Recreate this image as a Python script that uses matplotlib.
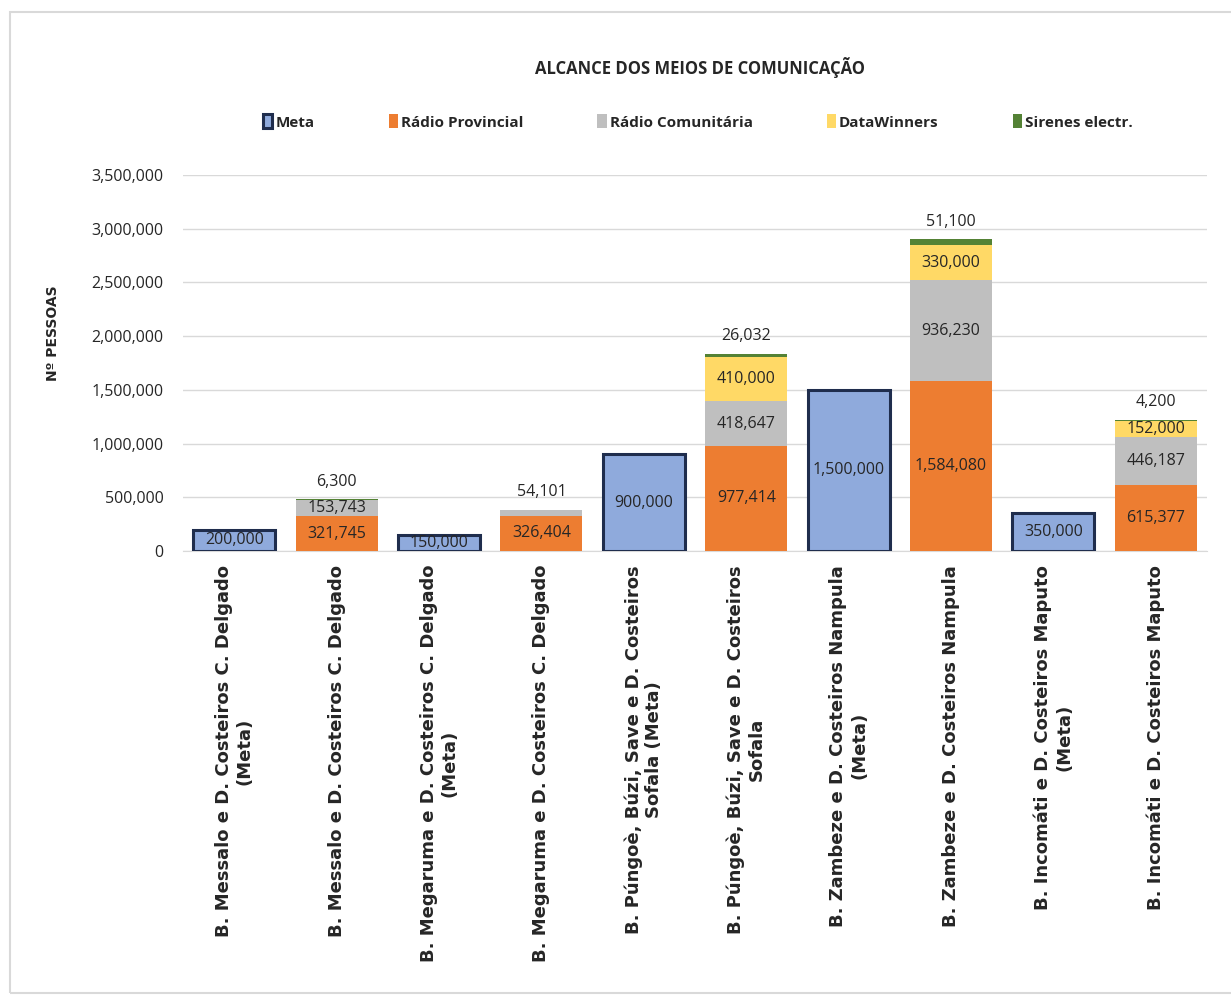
import matplotlib.pyplot as plt
import numpy as np
from matplotlib.patches import Rectangle
from matplotlib.ticker import FuncFormatter

categories = [
    "B. Messalo e D. Costeiros C. Delgado\n(Meta)",
    "B. Messalo e D. Costeiros C. Delgado",
    "B. Megaruma e D. Costeiros C. Delgado\n(Meta)",
    "B. Megaruma e D. Costeiros C. Delgado",
    "B. Púngoè, Búzi, Save e D. Costeiros\nSofala (Meta)",
    "B. Púngoè, Búzi, Save e D. Costeiros\nSofala",
    "B. Zambeze e D. Costeiros Nampula\n(Meta)",
    "B. Zambeze e D. Costeiros Nampula",
    "B. Incomáti e D. Costeiros Maputo\n(Meta)",
    "B. Incomáti e D. Costeiros Maputo",
]
meta = [200000, 0, 150000, 0, 900000, 0, 1500000, 0, 350000, 0]
provincial = [0, 321745, 0, 326404, 0, 977414, 0, 1584080, 0, 615377]
comunitaria = [0, 153743, 0, 54101, 0, 418647, 0, 936230, 0, 446187]
datawinners = [0, 0, 0, 0, 0, 410000, 0, 330000, 0, 152000]
sirenes = [0, 6300, 0, 0, 0, 26032, 0, 51100, 0, 4200]

series_names = ["Rádio Provincial", "Rádio Comunitária", "DataWinners", "Sirenes electr."]
series_colors = ["#ED7D31", "#BFBFBF", "#FFD966", "#548235"]

NARROW = ["Open Sans", "DejaVu Sans"]
WIDE = ["DejaVu Sans"]
TXT = "#262626"

fig = plt.figure(figsize=(12.31, 9.96), dpi=100)
fig.patches.append(Rectangle((10 / 1231, 0.003), 1.2, 1 - 12 / 996 - 0.003,
                             transform=fig.transFigure, fill=False,
                             edgecolor="#d9d9d9", linewidth=1.5))

ax = fig.add_axes([183 / 1231, 1 - 551 / 996, (1207 - 183) / 1231, (551 - 175) / 996])
x = np.arange(len(categories))
width = 0.8

h_meta = ax.bar(x, meta, width, color="#8FAADC", edgecolor="#1F2D4D",
                linewidth=2.2, label="Meta", zorder=3)
mask = np.array(meta) > 0
for rect, m in zip(h_meta, mask):
    if not m:
        rect.set_visible(False)

bottom = np.zeros(len(x))
handles = [h_meta]
stacks = [provincial, comunitaria, datawinners, sirenes]
for vals, name, col in zip(stacks, series_names, series_colors):
    vals = np.array(vals, dtype=float)
    h = ax.bar(x, vals, width, bottom=bottom, color=col, label=name, zorder=3)
    handles.append(h)
    bottom = bottom + vals

# value labels: inside the segment when it is tall enough, else above the stack
VSIZE = 11.5
for i in range(len(x)):
    if meta[i] > 0:
        ax.text(x[i], meta[i] / 2, f"{meta[i]:,}", ha="center", va="center",
                fontsize=VSIZE, family=NARROW, color=TXT, zorder=5)
        continue
    base = 0
    above = []
    for vals in stacks:
        v = vals[i]
        if v == 0:
            continue
        if v >= 100000:
            ax.text(x[i], base + v / 2, f"{v:,}", ha="center", va="center",
                    fontsize=VSIZE, family=NARROW, color=TXT, zorder=5)
        else:
            above.append(v)
        base += v
    for v in above:
        ax.annotate(f"{v:,}", (x[i], base), xytext=(0, 7), textcoords="offset points",
                    ha="center", va="bottom", fontsize=VSIZE, family=NARROW, color=TXT)

ax.set_ylim(0, 3500000)
ax.set_xlim(-0.5, len(x) - 0.5)
ax.set_yticks(np.arange(0, 3500001, 500000))
ax.yaxis.set_major_formatter(FuncFormatter(lambda v, p: f"{int(v):,}"))
ax.grid(axis="y", color="#d9d9d9", linewidth=1, zorder=0)
ax.set_axisbelow(True)
for s in ["top", "right", "left"]:
    ax.spines[s].set_visible(False)
ax.spines["bottom"].set_color("#d9d9d9")
ax.tick_params(axis="y", length=0, pad=14, labelsize=11.5, labelcolor=TXT)
ax.tick_params(axis="x", length=0, pad=10)
for lab in ax.get_yticklabels():
    lab.set_family(NARROW)

ax.set_xticks(x)
ax.set_xticklabels(categories, rotation=90, ha="center", va="top",
                   multialignment="center", fontsize=13, fontweight="bold",
                   family=WIDE, color=TXT)

ax.set_ylabel("Nº PESSOAS", fontsize=10, fontweight="bold", color=TXT,
              family=WIDE)
ax.yaxis.set_label_coords(-0.12, 0.58)

fig.text(700 / 1231, 1 - 67 / 996, "ALCANCE DOS MEIOS DE COMUNICAÇÃO", ha="center",
         va="center", fontsize=12, fontweight="bold", family=NARROW, color=TXT)

leg = fig.legend(handles=handles, labels=["Meta"] + series_names, loc="center",
                 bbox_to_anchor=(698 / 1231, 1 - 122 / 996), ncol=5, frameon=False,
                 handlelength=0.6, handleheight=1.0, handletextpad=0.2,
                 columnspacing=4.85, prop={"family": NARROW, "size": 11, "weight": "bold"})
for t in leg.get_texts():
    t.set_color(TXT)

fig.savefig("out.png", dpi=100)
